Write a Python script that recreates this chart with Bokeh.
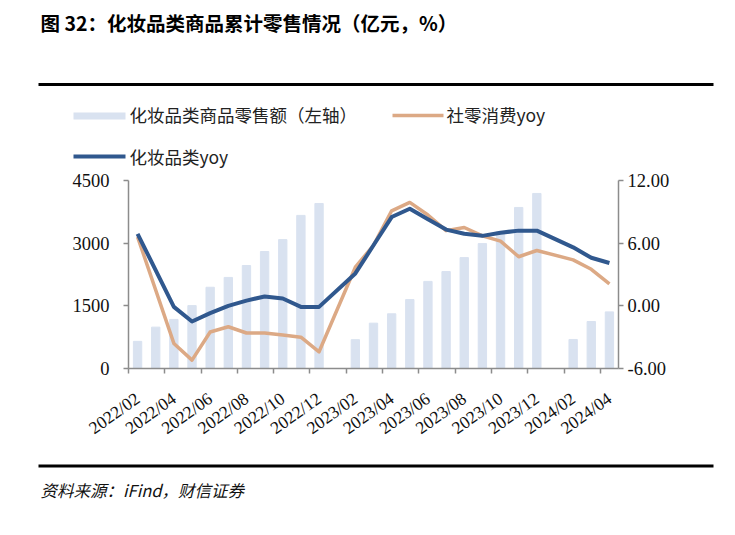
from bokeh.plotting import figure
from bokeh.models import (Range1d, LinearAxis, FixedTicker, NumeralTickFormatter,
                          Label, BoxAnnotation)
from bokeh.embed import file_html
from bokeh.resources import INLINE

# ---------------- data ----------------
categories = ["2022/02", "2022/03", "2022/04", "2022/05", "2022/06", "2022/07", "2022/08",
              "2022/09", "2022/10", "2022/11", "2022/12",
              "2023/01", "2023/02", "2023/03", "2023/04", "2023/05", "2023/06", "2023/07",
              "2023/08", "2023/09", "2023/10", "2023/11", "2023/12",
              "2024/01", "2024/02", "2024/03", "2024/04"]
cosmetics_sales = [650, 990, 1175, 1505, 1945, 2180, 2465, 2800, 3085, 3665, 3950,
                   None, 690, 1085, 1310, 1650, 2085, 2320, 2655, 2990, 3280, 3855, 4190,
                   None, 695, 1125, 1355]
retail_yoy = [6.6, None, -3.6, -5.2, -2.5, -2.0, -2.6, -2.6, -2.8, -3.0, -4.4,
              None, 3.7, 5.8, 9.1, 9.9, 8.7, 7.2, 7.5, 6.7, 6.2, 4.7, 5.3,
              None, 4.4, 3.5, 2.1]
cosmetics_yoy = [6.9, None, -0.1, -1.5, -0.7, 0.0, 0.5, 0.9, 0.7, -0.1, -0.1,
                 None, 3.1, 5.8, 8.5, 9.3, 8.3, 7.3, 6.9, 6.7, 7.0, 7.2, 7.2,
                 None, 5.6, 4.6, 4.1]
left_ticks = [0, 1500, 3000, 4500]
right_ticks = [-6, 0, 6, 12]

title_text = "图 32：化妆品类商品累计零售情况（亿元，%）"
legend_labels = ["化妆品类商品零售额（左轴）", "社零消费yoy", "化妆品类yoy"]
source_text = "资料来源：iFind，财信证券"

BAR_COLOR = "#d9e2f0"
BLUE = "#30588e"
ORANGE = "#dca985"
AXIS_COLOR = "#8c8c8c"
CJK = "Noto Sans CJK SC"
SERIF = "Liberation Serif"

W, H = 735, 535
# where the plotting area sits on the canvas (pixels)
PL, PR, PT, PB = 128, 618, 180, 368

n = len(categories)
left_lo, left_hi = left_ticks[0], left_ticks[-1]
right_lo, right_hi = right_ticks[0], right_ticks[-1]

# ranges chosen so that the frame fills the canvas and the plotting area lands at PL..PR, PT..PB
ppx = (PR - PL) / n
x_range = Range1d(-PL / ppx, n + (W - PR) / ppx)
upl = (left_hi - left_lo) / (PB - PT)
y_range = Range1d(left_lo - (H - PB) * upl, left_hi + PT * upl)
upr = (right_hi - right_lo) / (PB - PT)
yoy_range = Range1d(right_lo - (H - PB) * upr, right_hi + PT * upr)

xs = [i + 0.5 for i in range(n)]
bar_x = [xs[i] for i in range(n) if cosmetics_sales[i] is not None]
bar_top = [v for v in cosmetics_sales if v is not None]
r_x = [xs[i] for i in range(n) if retail_yoy[i] is not None]
r_y = [v for v in retail_yoy if v is not None]
c_x = [xs[i] for i in range(n) if cosmetics_yoy[i] is not None]
c_y = [v for v in cosmetics_yoy if v is not None]

p = figure(width=W, height=H, x_range=x_range, y_range=y_range,
           output_backend="svg", toolbar_location=None, min_border=0,
           x_axis_location=None, y_axis_location=None)
p.extra_y_ranges = {"yoy": yoy_range}
p.grid.visible = False
p.outline_line_color = None
p.background_fill_color = "white"
p.border_fill_color = "white"

p.vbar(x=bar_x, top=bar_top, bottom=0, width=0.46, color=BAR_COLOR)
p.line(x=r_x, y=r_y, y_range_name="yoy", line_color=ORANGE, line_width=3.5, line_join="round")
p.line(x=c_x, y=c_y, y_range_name="yoy", line_color=BLUE, line_width=4, line_join="round")


def style_axis(ax):
    ax.axis_line_color = AXIS_COLOR
    ax.axis_line_width = 1.5
    ax.major_tick_line_color = AXIS_COLOR
    ax.major_tick_line_width = 1.5
    ax.major_tick_out = 5
    ax.major_tick_in = 0
    ax.minor_tick_line_color = None
    ax.major_label_text_font = SERIF
    ax.major_label_text_font_size = "18.5px"
    ax.major_label_text_color = "#111111"


yl = LinearAxis(ticker=FixedTicker(ticks=left_ticks), fixed_location=0,
                bounds=(left_lo, left_hi))
style_axis(yl)
yl.major_label_standoff = 14
p.add_layout(yl, "left")

yr = LinearAxis(y_range_name="yoy", ticker=FixedTicker(ticks=right_ticks),
                formatter=NumeralTickFormatter(format="0.00"), fixed_location=n,
                bounds=(right_lo, right_hi))
style_axis(yr)
yr.major_label_standoff = 4
p.add_layout(yr, "right")

# x axis: labels at category centres (every other one), tick marks at category boundaries
label_pos = [xs[i] for i in range(0, n, 2)]
xl = LinearAxis(ticker=FixedTicker(ticks=label_pos, minor_ticks=list(range(0, n, 2))),
                major_label_overrides={xs[i]: categories[i] for i in range(0, n, 2)},
                fixed_location=0, bounds=(0, n))
style_axis(xl)
xl.major_tick_line_color = None
xl.major_tick_out = 0
xl.minor_tick_line_color = AXIS_COLOR
xl.minor_tick_line_width = 1.5
xl.minor_tick_out = 5
xl.minor_tick_in = 0
xl.major_label_orientation = 0.62
xl.major_label_standoff = 23
xl.major_label_text_font_size = "17.5px"
p.add_layout(xl, "below")


def sy(y):
    return H - y


def box(l, r, t, b, color):
    p.add_layout(BoxAnnotation(left=l, right=r, top=sy(t), bottom=sy(b),
                               left_units="screen", right_units="screen",
                               top_units="screen", bottom_units="screen",
                               fill_color=color, fill_alpha=1.0, line_color=None))


def label(x, y, text, size, style="normal", color="#222222"):
    p.add_layout(Label(x=x, y=sy(y), x_units="screen", y_units="screen", text=text,
                       text_font=CJK, text_font_size=size, text_font_style=style,
                       text_baseline="middle", text_align="left", text_color=color))


# title and rules
label(40, 22, title_text, "19.5px", "bold", "#000000")
box(38, 713, 82.5, 85.5, "#000000")
box(38, 713, 464, 467, "#000000")

# legend
box(73, 125, 112, 119, BAR_COLOR)
box(392, 443, 113.2, 116.8, ORANGE)
box(73, 125, 154, 158, BLUE)
label(129, 113.5, legend_labels[0], "17.5px")
label(446, 113.5, legend_labels[1], "17.5px")
label(129, 156, legend_labels[2], "17.5px")

# source
label(40, 489, source_text, "16.5px", "italic", "#111111")

open("out.html", "w").write(file_html(p, INLINE))
